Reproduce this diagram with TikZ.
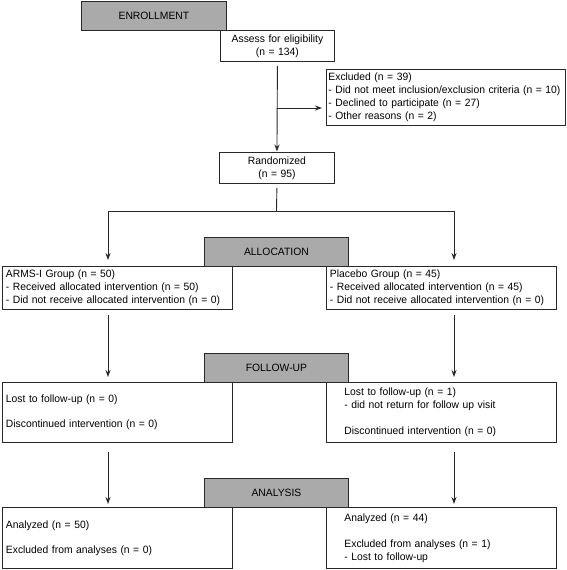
\documentclass[tikz,border=0pt]{standalone}
\usepackage{fontspec}
\setmainfont{Liberation Sans}[FakeStretch=0.975]
\usetikzlibrary{arrows.meta,positioning}
\definecolor{stagegray}{RGB}{170,170,170}
\definecolor{linecol}{RGB}{40,40,40}

\begin{document}
\begin{tikzpicture}[x=1pt, y=-1pt, font=\fontsize{10.6}{13}\selectfont, line width=0.9pt]
    \tikzstyle{stage} = [rectangle, draw=linecol, fill=stagegray, anchor=north west,
    minimum width=144pt, minimum height=29pt, inner sep=0pt]
    \tikzstyle{block} = [rectangle, draw=linecol, fill=white, anchor=north west,
    align=left, inner ysep=0pt, inner xsep=3.5pt, text width=223pt]
    \tikzstyle{indented} = [block, inner xsep=18pt, text width=194pt]
    \tikzstyle{arrow} = [draw=linecol, ->, >={Stealth[length=7pt,width=5pt]}, shorten >=5pt]

    \useasboundingbox (0,0) rectangle (567,570);

    % enrollment
    \node [stage, minimum width=145pt] (enroll) at (81,1) {ENROLLMENT};
    \node [block, align=center, text width=107pt, minimum height=31pt] (assess) at (220,30)
        {Assess for eligibility\\(n = 134)};
    \node [block, text width=235pt, inner xsep=2pt, minimum height=56pt] (excluded) at (326,69)
        {Excluded (n = 39)\\\mbox{- Did not meet inclusion/exclusion criteria (n = 10)}\\- Declined to participate (n = 27)\\- Other reasons (n = 2)};
    \node [block, align=center, text width=108pt, minimum height=31pt] (randomized) at (219,152)
        {Randomized\\(n = 95)};

    % allocation
    \node [stage] (allocation) at (204,237) {ALLOCATION};
    \node [block, minimum height=43pt] (arms) at (2,266)
        {ARMS-I Group (n = 50)\\- Received allocated intervention (n = 50)\\- Did not receive allocated intervention (n = 0)};
    \node [block, minimum height=43pt] (placebo) at (326,266)
        {Placebo Group (n = 45)\\- Received allocated intervention (n = 45)\\- Did not receive allocated intervention (n = 0)};

    % follow-up
    \node [stage] (followup) at (204,353) {FOLLOW-UP};
    \node [block, minimum height=60pt] (fuleft) at (2,382)
        {Lost to follow-up (n = 0)\\[12pt]Discontinued intervention (n = 0)};
    \node [indented, minimum height=60pt] (furight) at (326,382)
        {Lost to follow-up (n = 1)\\- did not return for follow up visit\\[13pt]Discontinued intervention (n = 0)};

    % analysis
    \node [stage] (analysis) at (204,478) {ANALYSIS};
    \node [block, minimum height=61pt] (anleft) at (2,507)
        {Analyzed (n = 50)\\[12pt]Excluded from analyses (n = 0)};
    \node [indented, minimum height=61pt] (anright) at (326,507)
        {Analyzed (n = 44)\\[13pt]Excluded from analyses (n = 1)\\- Lost to follow-up};

    \coordinate (excjoin) at (276.5,108);
    \coordinate (split) at (276.5,211);
    \coordinate (lx) at (108,0);
    \coordinate (rx) at (454,0);

    \draw [arrow, shorten <=4pt, shorten >=0.5pt] (assess.south) -- (randomized.north);
    \draw [arrow, shorten >=4pt] (excjoin) -- (excjoin -| excluded.west);
    \draw [draw=linecol, shorten <=4pt] (randomized.south) -- (split);
    \draw [draw=linecol] (split -| lx) -- (split -| rx);
    \draw [arrow, shorten >=6pt] (split -| lx) -- (arms.north -| lx);
    \draw [arrow, shorten >=6pt] (split -| rx) -- (placebo.north -| rx);
    \draw [arrow, shorten <=5pt] (arms.south -| lx) -- (fuleft.north -| lx);
    \draw [arrow, shorten <=5pt] (placebo.south -| rx) -- (furight.north -| rx);
    \draw [arrow, shorten <=9pt, shorten >=3pt] (fuleft.south -| lx) -- (anleft.north -| lx);
    \draw [arrow, shorten <=9pt, shorten >=3pt] (furight.south -| rx) -- (anright.north -| rx);
\end{tikzpicture}
\end{document}
